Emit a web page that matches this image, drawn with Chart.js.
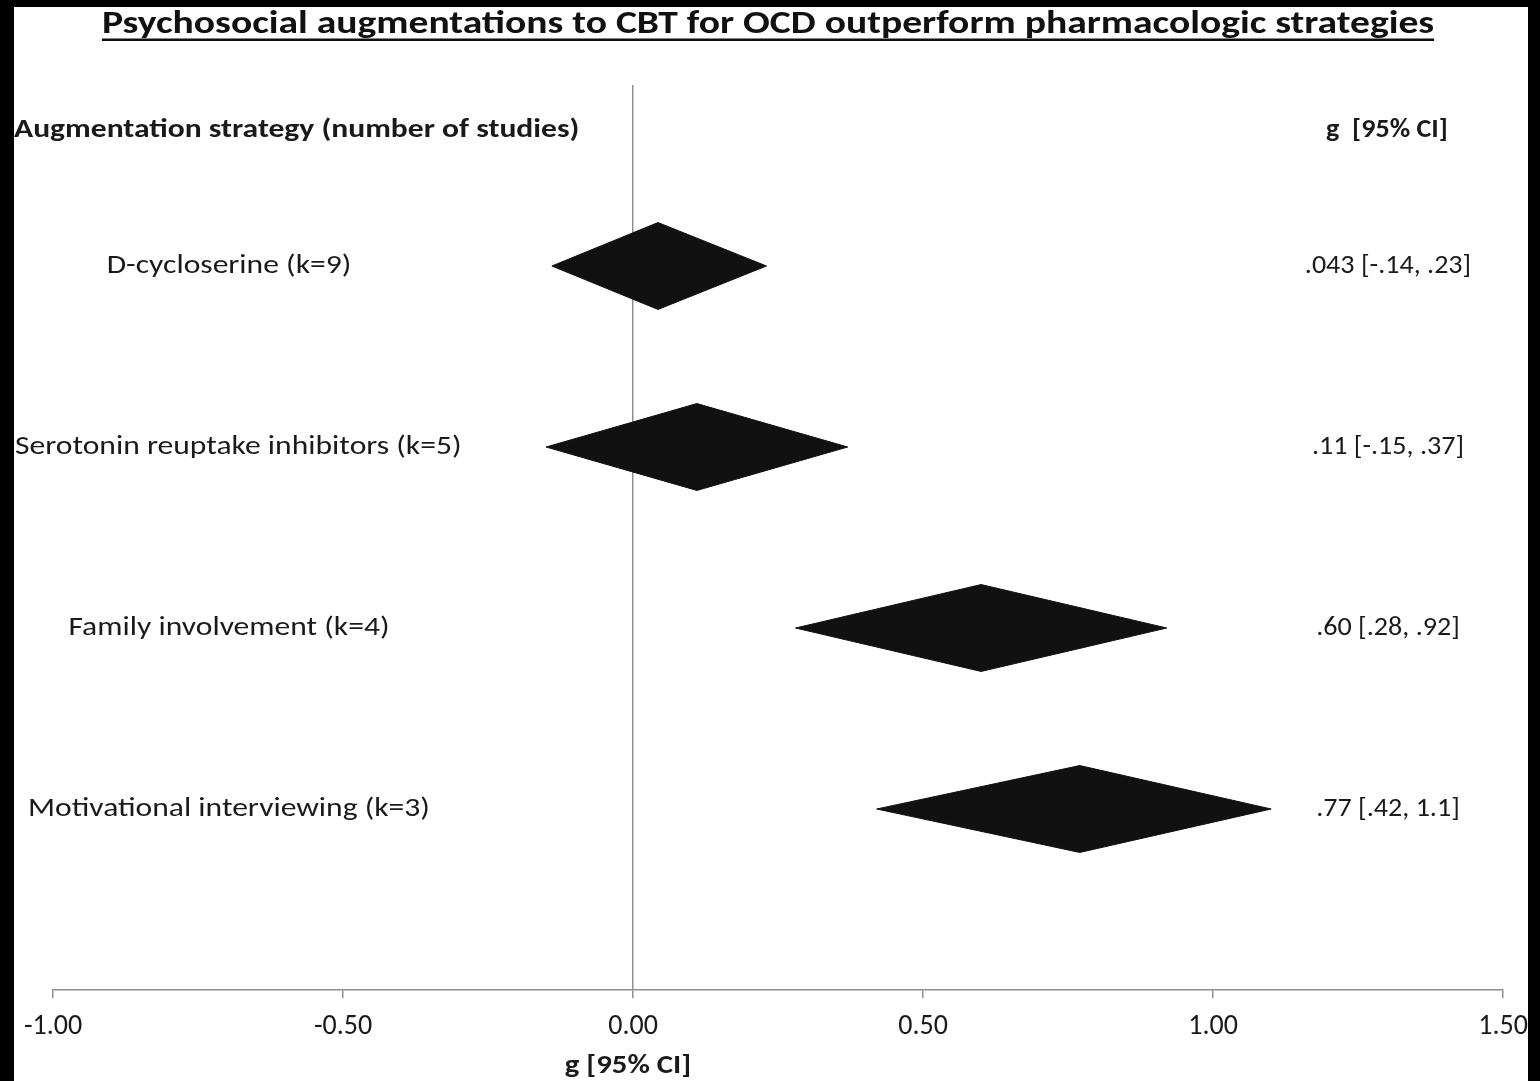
<!DOCTYPE html>
<html>
<head>
<meta charset="utf-8">
<title>Augmentation strategies forest plot</title>
<script src="https://cdn.jsdelivr.net/npm/chart.js@4.4.1/dist/chart.umd.min.js"></script>
<style>
  html, body { margin: 0; padding: 0; background: #fff; }
  #wrap { position: relative; width: 1540px; height: 1081px; }
  canvas { display: block; }
</style>
</head>
<body>
<div id="wrap"><canvas id="forest" width="1540" height="1081"></canvas></div>
<script>
// Pooled effect sizes (Hedges' g) with 95% confidence limits, one row per strategy
const strategies = [
  'D-cycloserine (k=9)',
  'Serotonin reuptake inhibitors (k=5)',
  'Family involvement (k=4)',
  'Motivational interviewing (k=3)'
];
const effectG = [0.043, 0.11, 0.60, 0.77];
const ciLow   = [-0.14, -0.15, 0.28, 0.42];
const ciHigh  = [0.23, 0.37, 0.92, 1.1];
const ciText  = ['.043 [-.14, .23]', '.11 [-.15, .37]', '.60 [.28, .92]', '.77 [.42, 1.1]'];
const xTicks  = [-1.00, -0.50, 0.00, 0.50, 1.00, 1.50];

const titleText   = 'Psychosocial augmentations to CBT for OCD outperform pharmacologic strategies';
const leftHeader  = 'Augmentation strategy (number of studies)';
const rightHeader = 'g  [95% CI]';
const axisTitle   = 'g [95% CI]';

const FONT = 'Carlito, Lato, "Liberation Sans", sans-serif';
const GRAY = '#8f8f8f';
const INK = '#1a1a1a';
const DIAMOND_HALF = 0.24;   // half height of each diamond, in row units
const FRAME_LEFT = 14;       // width of the black band on the left edge

// Horizontal widening applied to text, so the narrower fallback face
// takes the same room as the wider Calibri-style lettering
const STRETCH_TITLE = 1.2;
const STRETCH_WORDS = 1.17;
const STRETCH_NUMS  = 1.04;

// Rows run top to bottom: first strategy sits highest on the y scale
const rowOf = i => strategies.length - i;

const datasets = strategies.map((name, i) => {
  const r = rowOf(i);
  return {
    label: name,
    data: [
      { x: ciLow[i],   y: r },
      { x: effectG[i], y: r + DIAMOND_HALF },
      { x: ciHigh[i],  y: r },
      { x: effectG[i], y: r - DIAMOND_HALF },
      { x: ciLow[i],   y: r }
    ],
    fill: 'shape',
    backgroundColor: '#111111',
    borderColor: '#111111',
    borderWidth: 1,
    pointRadius: 0,
    tension: 0
  };
});

// Draw text widened by a factor while keeping its height; returns drawn box
function drawStretched(ctx, text, x, y, align, stretch, minLeft) {
  const w = ctx.measureText(text).width * stretch;
  let left = x;
  if (align === 'center') left = x - w / 2;
  else if (align === 'right') left = x - w;
  if (minLeft !== undefined && left < minLeft) left = minLeft;
  ctx.save();
  ctx.translate(left, y);
  ctx.scale(stretch, 1);
  ctx.textAlign = 'left';
  ctx.fillText(text, 0, 0);
  ctx.restore();
  return { left, width: w };
}

const textLayer = {
  id: 'textLayer',
  beforeDraw(chart) {
    const ctx = chart.ctx;
    ctx.save();
    ctx.fillStyle = '#ffffff';
    ctx.fillRect(0, 0, chart.width, chart.height);
    ctx.restore();
  },
  afterDraw(chart) {
    const ctx = chart.ctx;
    const ys = chart.scales.y;
    ctx.save();

    // Underlined title
    ctx.fillStyle = '#111';
    ctx.font = 'bold 33px ' + FONT;
    ctx.textBaseline = 'alphabetic';
    const t = drawStretched(ctx, titleText, 768, 33, 'center', STRETCH_TITLE);
    ctx.fillRect(t.left, 38.5, t.width, 2.5);

    // Column headers
    ctx.fillStyle = INK;
    ctx.font = 'bold 27px ' + FONT;
    ctx.textBaseline = 'middle';
    const hy = ys.getPixelForValue(4.75);
    drawStretched(ctx, leftHeader, FRAME_LEFT, hy, 'left', STRETCH_WORDS);
    drawStretched(ctx, rightHeader, 1387, hy, 'center', STRETCH_NUMS);

    // Row labels and effect sizes
    ctx.font = '27px ' + FONT;
    strategies.forEach((name, i) => {
      const y = ys.getPixelForValue(rowOf(i));
      drawStretched(ctx, name, 229, y, 'center', STRETCH_WORDS, FRAME_LEFT + 1);
      drawStretched(ctx, ciText[i], 1388, y, 'center', STRETCH_NUMS);
    });

    // Axis title
    ctx.font = 'bold 27px ' + FONT;
    drawStretched(ctx, axisTitle, 628, 1066, 'center', 1.14);

    // Black frame along the top and sides
    ctx.fillStyle = '#000';
    ctx.fillRect(0, 0, FRAME_LEFT, chart.height);
    ctx.fillRect(0, 0, chart.width, 7);
    ctx.fillRect(1528, 0, chart.width - 1528, chart.height);
    ctx.restore();
  }
};

new Chart(document.getElementById('forest'), {
  type: 'line',
  data: { datasets },
  plugins: [textLayer],
  options: {
    responsive: false,
    animation: false,
    layout: { padding: { left: 53, right: 36, top: 85, bottom: 0 } },
    plugins: {
      legend: { display: false },
      tooltip: { enabled: false },
      title: { display: false }
    },
    scales: {
      x: {
        type: 'linear',
        position: 'bottom',
        min: -1,
        max: 1.5,
        afterBuildTicks: s => { s.ticks = xTicks.map(v => ({ value: v })); },
        afterFit: s => { s.height = 91; },
        ticks: {
          callback: v => Number(v).toFixed(2),
          font: { family: FONT, size: 28 },
          color: INK,
          padding: 12,
          maxRotation: 0
        },
        grid: {
          color: c => (c.tick && c.tick.value === 0 ? GRAY : 'rgba(0,0,0,0)'),
          tickColor: GRAY,
          lineWidth: 1.5,
          tickLength: 8,
          drawTicks: true,
          drawOnChartArea: true
        },
        border: { display: true, color: GRAY, width: 1.5 }
      },
      y: {
        type: 'linear',
        min: 0,
        max: 5,
        display: false
      }
    }
  }
});
</script>
</body>
</html>
